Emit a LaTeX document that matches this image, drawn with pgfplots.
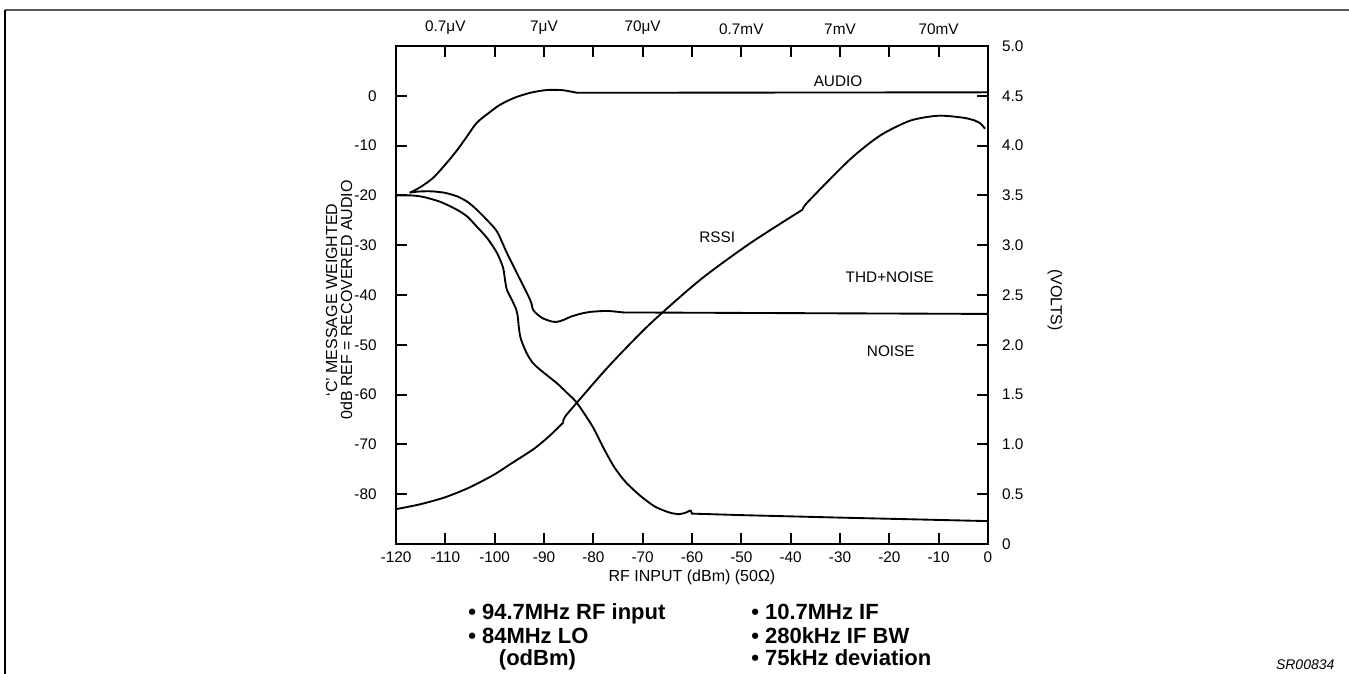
\documentclass[border=0pt]{standalone}
\usepackage{pgfplots}
\pgfplotsset{compat=1.18}
\usepackage{fontspec}
\setmainfont{Liberation Sans}
\begin{document}
\begin{tikzpicture}
\useasboundingbox (0pt,0pt) rectangle (1011.75pt,-505.5pt);
% frame
\draw[gray!70!black, line width=1.1pt] (3.75pt,-7.5pt) -- (1011.75pt,-7.5pt);
\draw[black, line width=0.8pt] (3.75pt,-7.5pt) -- (3.75pt,-505.5pt);

\pgfplotsset{
  common/.style={
    at={(297pt,-408pt)}, anchor=south west,
    scale only axis, width=444pt, height=373.5pt,
    xmin=-120, xmax=0,
    axis line style={line width=1.7pt},
    every tick/.style={line width=1.5pt, black},
    major tick length=8.5pt,
    tick align=inside,
    ticklabel style={font=\fontsize{11.5}{13}\selectfont},
    label style={font=\fontsize{12}{11.3}\selectfont},
    clip=false,
  },
}

% main axis (dB)
\begin{axis}[common,
  ymin=-90, ymax=10,
  xtick={-120,-110,...,0},
  xticklabels={-120,-110,-100,-90,-80,-70,-60,-50,-40,-30,-20,-10,0},
  ytick={-80,-70,...,0},
  yticklabels={-80,-70,-60,-50,-40,-30,-20,-10,0},
  xticklabel style={yshift=-2pt},
  yticklabel style={xshift=-11pt},
  xlabel={RF INPUT (dBm) (50Ω)},
  xlabel style={at={(axis description cs:0.5,-0.066)}, anchor=center},
  ylabel={`C' MESSAGE WEIGHTED\\0dB REF = RECOVERED AUDIO},
  ylabel style={at={(axis description cs:-0.096,0.49)}, anchor=center, align=center},
]
% AUDIO
\addplot[black, line width=1.4pt, smooth, tension=0.5] coordinates {
(-117.2,-19.5) (-115,-18.3) (-112.5,-16.5) (-110,-13.8) (-107.6,-10.9) (-105.5,-8)
(-103.6,-5.4) (-101,-3.3) (-98.9,-1.8) (-96,-0.4) (-92.8,0.6) (-90,1.1) (-88.2,1.2)
(-86,1.1) (-83.3,0.6)};
\addplot[black, line width=1.4pt] coordinates {(-83.3,0.6) (0,0.7)};
% THD+NOISE
\addplot[black, line width=1.4pt, smooth, tension=0.45] coordinates {
(-117.2,-19.4) (-115,-19.2) (-112.5,-19.2) (-110,-19.5) (-107.6,-20.2) (-105.5,-21.3)
(-103.6,-22.9) (-101.5,-25) (-99.5,-27.3) (-97.5,-31.6) (-95.5,-35.6) (-92.8,-41)
(-92.2,-43) (-91.2,-44) (-90.2,-44.7) (-88.5,-45.3) (-87.4,-45.4) (-86,-45)
(-84.7,-44.4) (-82.7,-43.8) (-80.7,-43.4) (-77.2,-43.2) (-74,-43.5)};
\addplot[black, line width=1.4pt] coordinates {(-74,-43.5) (-50,-43.6) (0,-43.8)};
% NOISE
\addplot[black, line width=1.4pt, smooth, tension=0.45] coordinates {
(-120,-20) (-117,-20) (-114.5,-20.3) (-111,-21.3) (-107.6,-22.9) (-105.5,-24.3)
(-103.6,-26.3) (-101.5,-28.6) (-99.5,-31.6) (-98.3,-34.5) (-97.9,-37) (-97.5,-39)
(-96.5,-41) (-95.6,-43) (-95.3,-44.5) (-95.1,-46.5) (-94.7,-48.8) (-93.5,-51.7)
(-92.3,-53.6) (-90.8,-55) (-87.4,-57.7) (-85.5,-59.5) (-83.3,-61.7) (-80.1,-66.5)
(-78,-70.6) (-75.8,-74.5) (-73.5,-77.5) (-70.5,-80.3) (-67.5,-82.5) (-64.5,-83.7)
(-62.5,-84) (-61,-83.6) (-60.3,-83.2)};
\addplot[black, line width=1.4pt] coordinates {(-60.3,-83.2) (-60,-83.9) (-50,-84.2) (-30,-84.7) (0,-85.4)};
% curve labels
\node[font=\fontsize{11.5}{13}\selectfont] at (axis cs:-30.4,3.0) {AUDIO};
\node[font=\fontsize{11.5}{13}\selectfont] at (axis cs:-54.9,-28.3) {RSSI};
\node[font=\fontsize{11.5}{13}\selectfont] at (axis cs:-19.9,-36.4) {THD+NOISE};
\node[font=\fontsize{11.5}{13}\selectfont] at (axis cs:-19.7,-51.3) {NOISE};
\end{axis}

% right axis (volts) with RSSI
\begin{axis}[common,
  ymin=0, ymax=5,
  hide x axis,
  axis y line*=right,
  ytick={0,0.5,...,5},
  yticklabels={0,0.5,1.0,1.5,2.0,2.5,3.0,3.5,4.0,4.5,5.0},
  major tick length=0pt,
  yticklabel style={xshift=7pt},
  ylabel={(VOLTS)},
  ylabel style={at={(axis description cs:1.113,0.49)}, anchor=center, rotate=180},
]
\addplot[black, line width=1.4pt, smooth, tension=0.45] coordinates {
(-120,0.35) (-115,0.40) (-110,0.47) (-105,0.57) (-100,0.70) (-96.9,0.80) (-92.2,0.95)
(-89,1.08) (-86.1,1.22)};
\addplot[black, line width=1.4pt, smooth, tension=0.45] coordinates {
(-86.1,1.22) (-85.7,1.28) (-82.1,1.49) (-76.6,1.80) (-68.5,2.21) (-58.4,2.65)
(-48.2,3.02) (-37.5,3.36)};
\addplot[black, line width=1.4pt, smooth, tension=0.45] coordinates {
(-37.5,3.36) (-36.6,3.43) (-28,3.86) (-21.9,4.1) (-15.8,4.25) (-10.1,4.3) (-5,4.28)
(-2.6,4.25) (-1.5,4.22) (-0.6,4.17)};
\end{axis}

% top axis (voltage across 50 ohm)
\begin{axis}[common,
  ymin=0, ymax=1,
  hide y axis,
  axis x line*=top,
  xtick={-110,-90,-70,-50,-30,-10},
  xticklabels={0.7μV,7μV,70μV,0.7mV,7mV,70mV},
  major tick length=0pt,
  xticklabel style={yshift=5pt},
]
\end{axis}

% notes below chart
\begin{scope}[every node/.style={font=\bfseries\fontsize{16.5}{18}\selectfont, anchor=base west, inner sep=0pt}]
\node at (351pt,-464.25pt) {• 94.7MHz RF input};
\node at (351pt,-482.5pt) {• 84MHz LO};
\node at (374pt,-499pt) {(odBm)};
\node at (563.25pt,-464.25pt) {• 10.7MHz IF};
\node at (563.25pt,-482.5pt) {• 280kHz IF BW};
\node at (563.25pt,-499pt) {• 75kHz deviation};
\end{scope}
\node[font=\itshape\fontsize{10.5}{12}\selectfont, anchor=base east, inner sep=0pt] at (1001pt,-502pt) {SR00834};
\end{tikzpicture}
\end{document}
